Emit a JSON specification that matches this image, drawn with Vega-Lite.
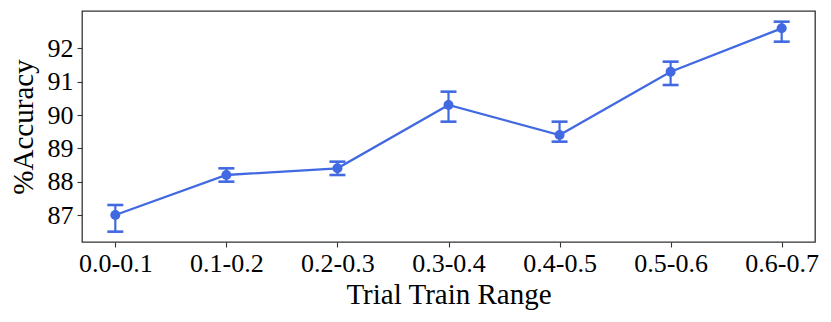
{
  "$schema": "https://vega.github.io/schema/vega-lite/v6.json",
  "autosize": {"type": "none"},
  "width": 733,
  "height": 231,
  "padding": {"left": 82, "top": 11, "right": 16, "bottom": 80},
  "background": "white",
  "config": {
    "view": {"stroke": "#333333", "strokeWidth": 1.3},
    "font": "Liberation Serif",
    "axis": {
      "domain": false,
      "grid": false,
      "tickColor": "#333333",
      "tickSize": 5,
      "tickWidth": 1.1,
      "labelFont": "Liberation Serif",
      "titleFont": "Liberation Serif",
      "labelFontSize": 26,
      "titleFontSize": 29,
      "labelColor": "black",
      "titleColor": "black",
      "titleFontWeight": "normal"
    }
  },
  "data": {
    "values": [
      {"range": "0.0-0.1", "acc": 87.0, "low": 86.5, "high": 87.3},
      {"range": "0.1-0.2", "acc": 88.2, "low": 88.0, "high": 88.4},
      {"range": "0.2-0.3", "acc": 88.4, "low": 88.2, "high": 88.6},
      {"range": "0.3-0.4", "acc": 90.3, "low": 89.8, "high": 90.7},
      {"range": "0.4-0.5", "acc": 89.4, "low": 89.2, "high": 89.8},
      {"range": "0.5-0.6", "acc": 91.3, "low": 90.9, "high": 91.6},
      {"range": "0.6-0.7", "acc": 92.6, "low": 92.2, "high": 92.8}
    ]
  },
  "encoding": {
    "x": {
      "field": "range",
      "type": "ordinal",
      "sort": null,
      "scale": {"type": "point", "padding": 0.3},
      "axis": {"title": "Trial Train Range", "labelAngle": 0, "labelPadding": 3, "titlePadding": 4}
    }
  },
  "layer": [
    {
      "mark": {"type": "line", "color": "#4169E1", "strokeWidth": 2.3},
      "encoding": {
        "y": {
          "field": "acc",
          "type": "quantitative",
          "scale": {"domain": [86.19, 93.12], "nice": false, "zero": false},
          "axis": {"title": "%Accuracy", "values": [87, 88, 89, 90, 91, 92], "labelPadding": 4, "titlePadding": 9}
        }
      }
    },
    {
      "mark": {"type": "errorbar", "ticks": {"size": 16, "thickness": 2.6, "color": "#4169E1", "opacity": 1}, "rule": {"strokeWidth": 2.2, "color": "#4169E1", "opacity": 1}, "color": "#4169E1", "opacity": 1},
      "encoding": {
        "y": {"field": "low", "type": "quantitative", "title": "%Accuracy"},
        "y2": {"field": "high"}
      }
    },
    {
      "mark": {"type": "point", "filled": true, "opacity": 1, "color": "#4169E1", "size": 100},
      "encoding": {
        "y": {"field": "acc", "type": "quantitative", "title": "%Accuracy"}
      }
    }
  ]
}
